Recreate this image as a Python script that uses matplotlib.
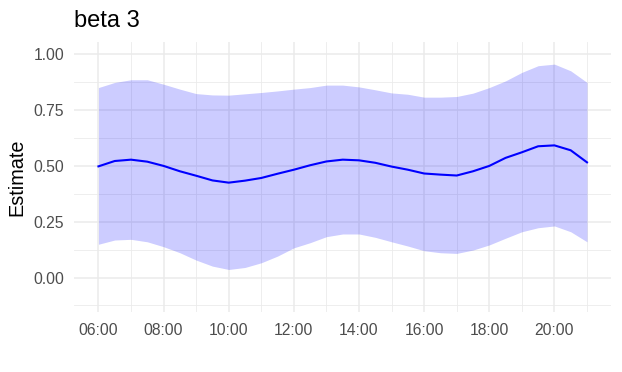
import matplotlib
matplotlib.use("Agg")
import matplotlib.pyplot as plt
from matplotlib.ticker import FixedLocator, FuncFormatter

plt.rcParams['font.family'] = ['Liberation Sans', 'DejaVu Sans']

hours = [6.0, 6.5, 7.0, 7.5, 8.0, 8.5, 9.0, 9.5, 10.0, 10.5, 11.0, 11.5, 12.0, 12.5,
         13.0, 13.5, 14.0, 14.5, 15.0, 15.5, 16.0, 16.5, 17.0, 17.5, 18.0, 18.5,
         19.0, 19.5, 20.0, 20.5, 21.0]
estimate = [0.498, 0.522, 0.528, 0.519, 0.500, 0.476, 0.456, 0.435, 0.425, 0.434, 0.446,
            0.465, 0.483, 0.503, 0.520, 0.528, 0.525, 0.514, 0.497, 0.483, 0.466, 0.461,
            0.457, 0.476, 0.500, 0.536, 0.561, 0.588, 0.592, 0.570, 0.516]
upper = [0.851, 0.874, 0.886, 0.886, 0.866, 0.844, 0.824, 0.818, 0.817, 0.823, 0.829,
         0.836, 0.844, 0.851, 0.862, 0.862, 0.854, 0.841, 0.827, 0.821, 0.808, 0.808,
         0.811, 0.826, 0.851, 0.881, 0.919, 0.949, 0.956, 0.926, 0.874]
lower = [0.149, 0.168, 0.171, 0.160, 0.138, 0.111, 0.078, 0.051, 0.036, 0.045, 0.066,
         0.096, 0.133, 0.156, 0.183, 0.195, 0.195, 0.180, 0.160, 0.141, 0.120, 0.111,
         0.108, 0.123, 0.146, 0.176, 0.205, 0.223, 0.231, 0.205, 0.160]

x_major = [6, 8, 10, 12, 14, 16, 18, 20]
x_minor = [7, 9, 11, 13, 15, 17, 19, 21]
y_major = [0.0, 0.25, 0.50, 0.75, 1.00]
y_minor = [-0.125, 0.125, 0.375, 0.625, 0.875]

fig = plt.figure(figsize=(6.22, 3.72), dpi=100)
ax = fig.add_axes([0.119, 0.161, 0.864, 0.726])

grid_col = '#EBEBEB'
for xv in x_major:
    ax.axvline(xv, color=grid_col, lw=1.1, zorder=0)
for xv in x_minor:
    ax.axvline(xv, color=grid_col, lw=0.6, zorder=0)
for yv in y_major:
    ax.axhline(yv, color=grid_col, lw=1.1, zorder=0)
for yv in y_minor:
    ax.axhline(yv, color=grid_col, lw=0.6, zorder=0)

ax.fill_between(hours, lower, upper, color='blue', alpha=0.2, lw=0, zorder=1)
ax.plot(hours, estimate, color='blue', lw=1.5, zorder=2)

ax.set_xlim(5.25, 21.75)
ax.set_ylim(-0.155, 1.055)
ax.xaxis.set_major_locator(FixedLocator(x_major))
ax.yaxis.set_major_locator(FixedLocator(y_major))
ax.xaxis.set_major_formatter(FuncFormatter(lambda v, p: f"{int(round(v)):02d}:00"))
ax.yaxis.set_major_formatter(FuncFormatter(lambda v, p: f"{v:.2f}"))
ax.tick_params(axis='both', length=0, labelsize=11.3, labelcolor='#4D4D4D')
ax.tick_params(axis='x', pad=8)
ax.tick_params(axis='y', pad=7)
for s in ax.spines.values():
    s.set_visible(False)

ax.set_ylabel('Estimate', fontsize=14.3, color='black', labelpad=5)
fig.text(0.119, 0.927, 'beta 3', fontsize=17, color='black', ha='left', va='baseline')

fig.savefig('out.png', dpi=100)
